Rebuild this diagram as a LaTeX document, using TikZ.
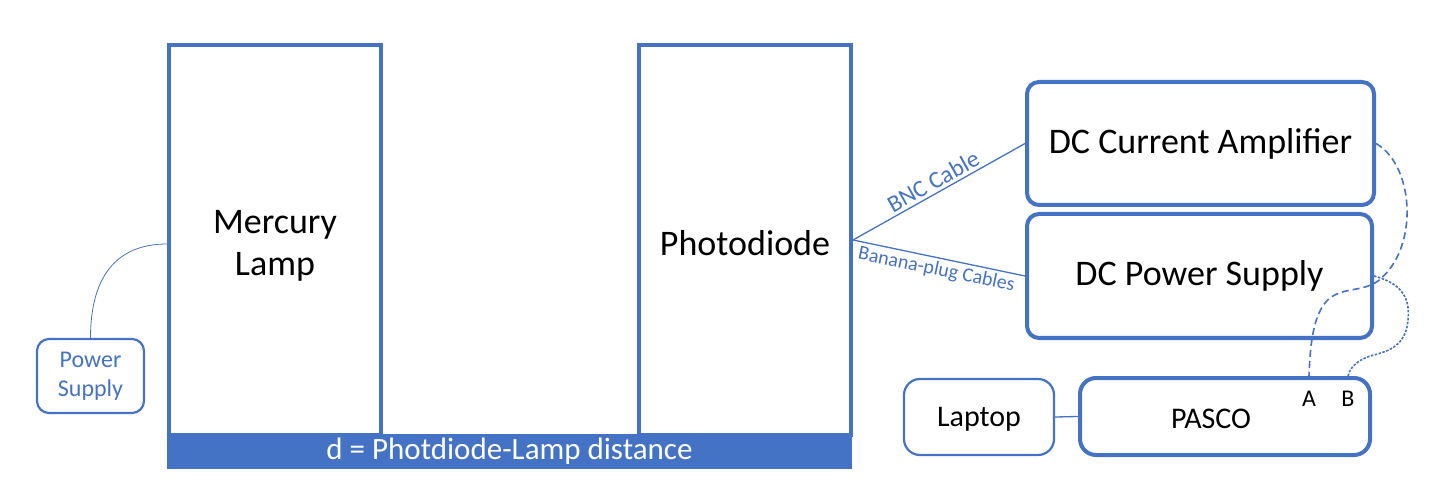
\documentclass[tikz,border=0pt]{standalone}
\usepackage{fontspec}
\setmainfont{Carlito}
\usetikzlibrary{positioning, calc}
\definecolor{setupblue}{HTML}{4472C4}
\newcommand{\bigtext}{\fontsize{36}{42}\selectfont}
\newcommand{\midtext}{\fontsize{30}{36}\selectfont}
\newcommand{\smalltext}{\fontsize{24}{29}\selectfont}
\tikzset{
    tower/.style={rectangle, draw=setupblue, line width=4pt,
        minimum width=212pt, minimum height=390pt, inner sep=0pt,
        align=center, font=\bigtext},
    instr/.style={rectangle, rounded corners=12pt, draw=setupblue,
        line width=4pt, inner sep=0pt, align=center, font=\bigtext},
    thinbox/.style={rectangle, rounded corners=12pt, draw=setupblue,
        line width=2.2pt, inner sep=0pt, align=center},
    cable/.style={draw=setupblue, line width=1.3pt},
    wire/.style={draw=setupblue, line width=0.8pt},
    lead/.style={draw=setupblue, line width=1.6pt,
        dash pattern=on 7pt off 4pt},
    leaddot/.style={draw=setupblue, line width=1.6pt,
        dash pattern=on 2.5pt off 1.5pt},
    cablelbl/.style={font=\fontsize{20}{24}\selectfont, text=setupblue,
        inner sep=3pt},
}

\begin{document}
\begin{tikzpicture}[x=1pt, y=-1pt]
\useasboundingbox (0,0) rectangle (1450,502);

% ================================================================
%  OPTICAL BENCH
% ================================================================

\node[tower] (lamp) at (275, 240) {};
\node[font=\bigtext, align=center] (lamptext) at (275, 246) {Mercury\\Lamp};
\node[tower] (diode) at (745, 240) {};
\node[font=\bigtext] (diodetext) at (745, 243) {Photodiode};

\node[rectangle, fill=setupblue, text=white, inner sep=0pt,
      minimum width=685pt, minimum height=35pt,
      font=\fontsize{31}{34}\selectfont]
      (bench) at (509.5, 451.5) {d = Photdiode-Lamp distance};

% Lamp supply
\node[thinbox, minimum width=107pt, minimum height=74pt,
      font=\smalltext, text=setupblue]
      (lampsupply) at (90.5, 376) {Power\\Supply};
\draw[wire] (lampsupply.north) .. controls ++(0,-62) and ++(-50,0) ..
    ([yshift=-4pt]lamp.west);

% ================================================================
%  INSTRUMENTS
% ================================================================

\node[instr, minimum width=347pt, minimum height=123pt]
      (amp) at (1200.5, 143.5) {DC Current Amplifier};
\node[instr, minimum width=345pt, minimum height=124pt]
      (dcsupply) at (1199.5, 276) {DC Power Supply};

\node[thinbox, minimum width=150pt, minimum height=76pt,
      rounded corners=16pt]
      (laptop) at (979, 417) {};
\node[font=\midtext] (laptoptext) at (979, 419) {Laptop};
\node[instr, minimum width=290pt, minimum height=77pt,
      rounded corners=16pt]
      (pasco) at (1225, 416.5) {};
\node[font=\midtext] (pascotext) at (1211, 419) {PASCO};

\node[font=\smalltext, inner sep=0pt] (pinA) at (1309, 399) {A};
\node[font=\smalltext, inner sep=0pt] (pinB) at (1348, 399) {B};

% Cables from photodiode
\draw[cable] (diode.east) --
    node[cablelbl, font=\fontsize{24}{28}\selectfont, above, sloped]
    {BNC Cable} (amp.west);
\draw[cable] (diode.east) --
    node[cablelbl, below, sloped] {Banana-plug Cables} (dcsupply.west);

\draw[wire, line width=1.3pt] (laptop.east) -- (pasco.west);

% Leads to PASCO inputs
\coordinate (inA) at (pinA |- pasco.north);
\coordinate (inB) at (pinB |- pasco.north);
\draw[lead] (amp.east) .. controls (1414, 165) and (1420, 248) ..
    (1378, 281) .. controls (1362, 292) and (1345, 287) ..
    (1330, 298) .. controls (1312, 312) and (1310, 350) .. (inA);
\draw[leaddot] (dcsupply.east) .. controls (1404, 284) and (1410, 300) ..
    (1408, 320) .. controls (1406, 348) and (1385, 352) ..
    (1370, 356) .. controls (1356, 361) and (1350, 368) .. (inB);

\end{tikzpicture}
\end{document}
